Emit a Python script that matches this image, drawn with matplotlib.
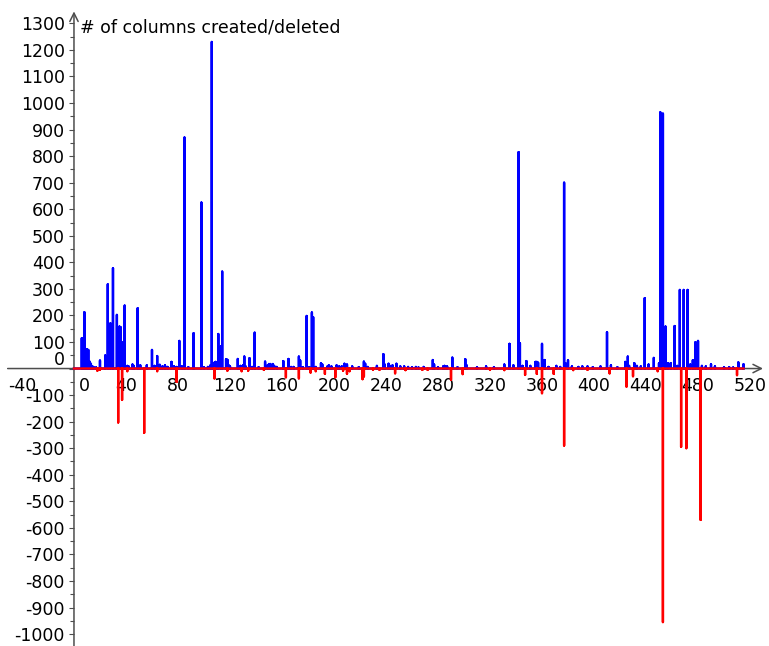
import numpy as np
import matplotlib
matplotlib.use("Agg")
import matplotlib.pyplot as plt
from matplotlib.ticker import FixedLocator, FuncFormatter

N_STEPS = 516  # steps 0..515

# columns created per step (only the non-zero steps)
CREATED_AT = [
    6, 7, 8, 9, 10, 11, 12, 13, 14, 15,
    17, 20, 24, 26, 28, 30, 33, 35, 36, 37,
    39, 41, 42, 45, 46, 49, 51, 56, 60, 62,
    64, 66, 68, 70, 72, 75, 77, 79, 81, 83,
    85, 88, 92, 98, 100, 103, 105, 106, 108, 109,
    111, 113, 114, 117, 118, 119, 120, 126, 128, 130,
    131, 132, 135, 137, 139, 142, 147, 149, 150, 151,
    152, 153, 154, 156, 161, 165, 167, 169, 173, 174,
    176, 179, 181, 183, 184, 186, 190, 191, 195, 196,
    198, 202, 204, 206, 208, 210, 214, 219, 223, 224,
    226, 233, 238, 239, 242, 243, 245, 248, 251, 254,
    257, 260, 263, 265, 269, 276, 277, 280, 284, 285,
    287, 291, 295, 301, 302, 310, 317, 323, 331, 335,
    338, 342, 343, 345, 348, 351, 355, 356, 357, 360,
    362, 365, 371, 374, 377, 378, 380, 383, 388, 391,
    395, 399, 405, 410, 413, 418, 424, 426, 427, 431,
    433, 436, 439, 442, 446, 450, 451, 453, 455, 457,
    459, 462, 464, 466, 469, 472, 474, 476, 478, 480,
    483, 486, 490, 493, 500, 504, 507, 511, 515,
]
CREATED_N = [
    114, 110, 212, 73, 73, 70, 26, 18, 8, 6,
    4, 30, 49, 317, 170, 378, 202, 158, 155, 98,
    237, 10, 8, 15, 10, 227, 12, 12, 70, 10,
    47, 14, 8, 12, 6, 25, 8, 6, 104, 8,
    870, 5, 133, 625, 5, 6, 12, 1230, 22, 25,
    130, 83, 365, 35, 33, 12, 8, 36, 10, 12,
    45, 8, 39, 6, 135, 5, 26, 12, 17, 17,
    12, 17, 10, 6, 28, 36, 6, 6, 45, 30,
    5, 198, 5, 211, 193, 6, 20, 15, 8, 12,
    8, 12, 8, 8, 18, 15, 8, 5, 26, 18,
    6, 10, 54, 15, 18, 10, 12, 18, 8, 8,
    6, 5, 6, 4, 6, 32, 15, 5, 8, 10,
    8, 41, 5, 35, 12, 5, 8, 5, 15, 93,
    12, 815, 95, 10, 28, 10, 25, 25, 22, 93,
    32, 6, 10, 6, 700, 20, 31, 8, 6, 8,
    8, 5, 8, 137, 12, 5, 25, 45, 10, 20,
    10, 8, 265, 15, 40, 20, 965, 960, 158, 20,
    20, 160, 10, 296, 296, 296, 15, 31, 99, 104,
    10, 8, 16, 8, 5, 5, 4, 23, 16,
]

# columns deleted per step, plotted as negative counts
DELETED_AT = [
    18, 20, 34, 37, 41, 54, 64, 79, 108, 118,
    129, 134, 146, 163, 173, 182, 186, 193, 201, 207,
    210, 212, 222, 223, 230, 235, 247, 255, 268, 272,
    290, 299, 320, 331, 347, 356, 360, 369, 377, 384,
    395, 412, 425, 430, 449, 453, 467, 471, 482, 510,
]
DELETED_N = [
    -8, -4, -203, -118, -10, -242, -10, -50, -37, -8,
    -10, -8, -5, -33, -37, -15, -10, -20, -33, -8,
    -20, -10, -40, -30, -5, -5, -18, -6, -5, -5,
    -42, -21, -5, -6, -24, -20, -93, -20, -290, -6,
    -5, -18, -68, -29, -10, -955, -295, -300, -570, -25,
]

X_LABELS = [-40] + list(range(40, 521, 40))
Y_MAJOR = list(range(-1000, 1301, 100))
Y_MINOR = list(range(-1050, 1301, 50))

AXIS_GRAY = "#4d4d4d"


def spikes(at, counts):
    # one vertical stroke per step, joined along y=0
    vals = np.zeros(N_STEPS)
    vals[np.array(at)] = counts
    steps = np.arange(N_STEPS)
    xs = np.repeat(steps, 3)
    ys = np.column_stack([np.zeros(N_STEPS), vals, np.zeros(N_STEPS)]).ravel()
    return xs, ys


fig = plt.figure(figsize=(7.69, 6.46), dpi=100)
ax = fig.add_axes([0, 0, 1, 1])
ax.set_xlim(-56.9, 534.6)
ax.set_ylim(-1045, 1388)

xs, ys = spikes(CREATED_AT, CREATED_N)
ax.plot(xs, ys, color="blue", lw=1.7, zorder=3)
xs, ys = spikes(DELETED_AT, DELETED_N)
ax.plot(xs, ys, color="red", lw=1.7, zorder=4)

# axes through the origin with arrow heads
for side in ["top", "right", "left", "bottom"]:
    ax.spines[side].set_visible(False)
ax.spines["left"].set_position(("data", 0))
ax.spines["bottom"].set_position(("data", 0))
arrow = dict(arrowstyle="->,head_length=0.6,head_width=0.3", color=AXIS_GRAY,
             lw=1.1, shrinkA=0, shrinkB=0)
ax.annotate("", xy=(530, 0), xytext=(-51, 0), arrowprops=arrow, zorder=1)
ax.annotate("", xy=(0, 1345), xytext=(0, -1045), arrowprops=arrow, zorder=1)

ax.xaxis.set_major_locator(FixedLocator(X_LABELS))
ax.yaxis.set_major_locator(FixedLocator(Y_MAJOR))
ax.yaxis.set_minor_locator(FixedLocator(Y_MINOR))
hide_zero = FuncFormatter(lambda v, p: "" if v == 0 else f"{v:g}")
ax.xaxis.set_major_formatter(hide_zero)
ax.yaxis.set_major_formatter(hide_zero)
ax.tick_params(axis="x", length=0, pad=6, labelsize=12.5)
ax.tick_params(axis="y", which="major", direction="out", length=3.6, width=0.8,
               color=AXIS_GRAY, pad=3, labelsize=12.5)
ax.tick_params(axis="y", which="minor", direction="out", length=2.8, width=0.8,
               color=AXIS_GRAY)

# zero labels nudged off the axes
ax.annotate("0", xy=(0, 0), xytext=(10, -8.3), textcoords="offset pixels",
            ha="center", va="top", fontsize=12.5)
ax.annotate("0", xy=(0, 0), xytext=(-9, 9), textcoords="offset pixels",
            ha="right", va="center", fontsize=12.5)

ax.text(4.6, 1264, "# of columns created/deleted", ha="left", va="baseline",
        fontsize=12.5)

fig.savefig("out.png", dpi=100)
